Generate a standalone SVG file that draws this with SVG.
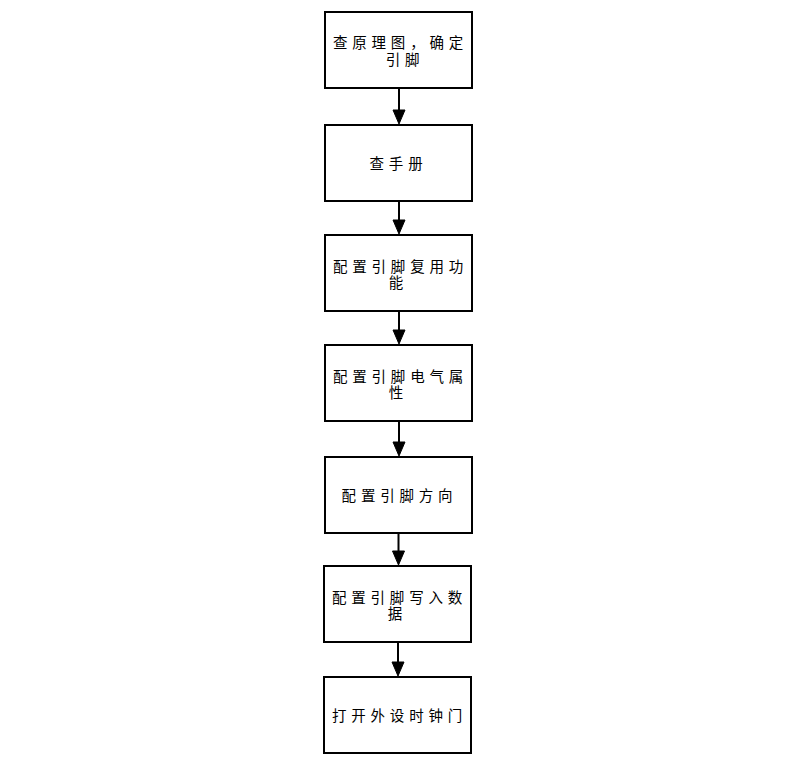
<svg xmlns="http://www.w3.org/2000/svg" width="785" height="757" viewBox="0 0 785 757">
<style>
.box{fill:#ffffff;stroke:#000000;stroke-width:2}
.t{font-family:"Noto Sans CJK SC","Liberation Sans",sans-serif;font-size:14.5px;letter-spacing:4.8px;fill:#000000;text-anchor:middle}
.ln{stroke:#000000;stroke-width:2;fill:none}
.ah{fill:#000000;stroke:#000000;stroke-width:1}
</style>
<rect width="785" height="757" fill="#ffffff"/>
<g id="connectors">
<line class="ln" x1="399" y1="88" x2="399" y2="110"/>
<polygon class="ah" points="393,110 405,110 399,124"/>
<line class="ln" x1="399" y1="201" x2="399" y2="220"/>
<polygon class="ah" points="393,220 405,220 399,234"/>
<line class="ln" x1="399" y1="311" x2="399" y2="330"/>
<polygon class="ah" points="393,330 405,330 399,344"/>
<line class="ln" x1="399" y1="421" x2="399" y2="442"/>
<polygon class="ah" points="393,442 405,442 399,456"/>
<line class="ln" x1="398.5" y1="533" x2="398.5" y2="551"/>
<polygon class="ah" points="392.5,551 404.5,551 398.5,565"/>
<line class="ln" x1="398" y1="642" x2="398" y2="662"/>
<polygon class="ah" points="392,662 404,662 398,676"/>
</g>
<g id="n1">
<rect class="box" x="325" y="12" width="147" height="76"/>
<text class="t"><tspan x="400.5" y="48">查原理图，确定</tspan><tspan x="405" y="64.5">引脚</tspan></text>
</g>
<g id="n2">
<rect class="box" x="325" y="125" width="147" height="76"/>
<text class="t" x="398.5" y="168.5">查手册</text>
</g>
<g id="n3">
<rect class="box" x="325" y="235" width="147" height="76"/>
<text class="t"><tspan x="400.5" y="271.5">配置引脚复用功</tspan><tspan x="398.5" y="288">能</tspan></text>
</g>
<g id="n4">
<rect class="box" x="325" y="345" width="147" height="76"/>
<text class="t"><tspan x="400.5" y="381.5">配置引脚电气属</tspan><tspan x="398.5" y="398">性</tspan></text>
</g>
<g id="n5">
<rect class="box" x="325" y="457" width="147" height="76"/>
<text class="t" x="399.5" y="500.5">配置引脚方向</text>
</g>
<g id="n6">
<rect class="box" x="324" y="566" width="147" height="76"/>
<text class="t"><tspan x="399.5" y="602.5">配置引脚写入数</tspan><tspan x="397.5" y="619">据</tspan></text>
</g>
<g id="n7">
<rect class="box" x="324" y="677" width="147" height="76"/>
<text class="t" x="399.5" y="720.5">打开外设时钟门</text>
</g>
</svg>
